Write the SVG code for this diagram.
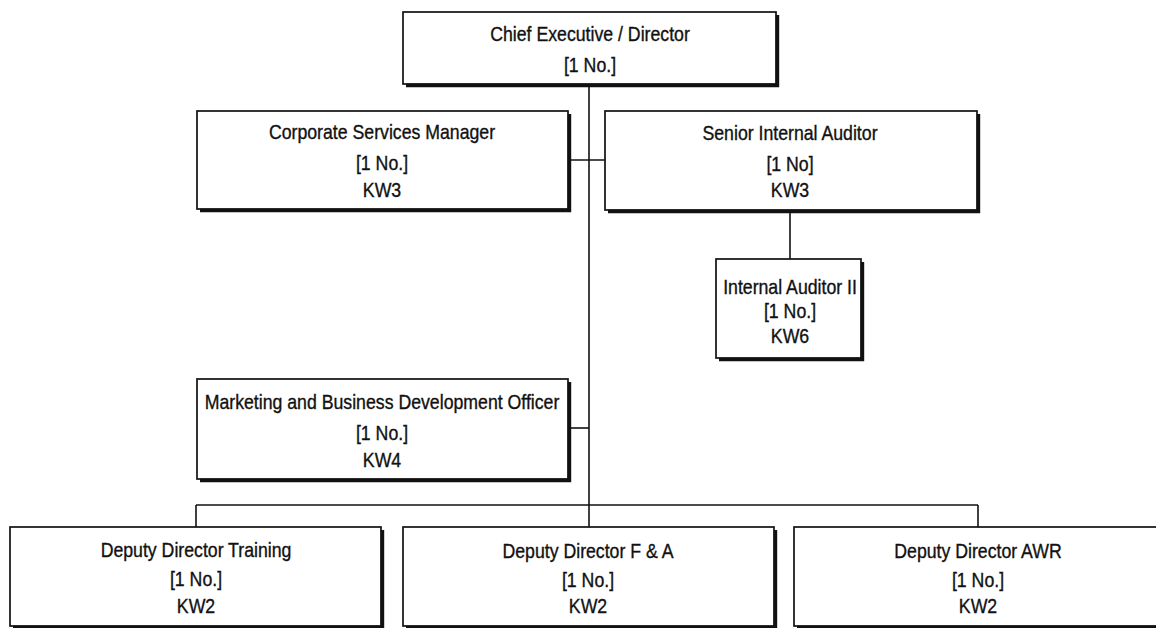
<svg xmlns="http://www.w3.org/2000/svg" width="1156" height="628" viewBox="0 0 1156 628">
  <style>
    .box { fill: #ffffff; stroke: #111111; stroke-width: 1.7; }
    .shadow { fill: none; stroke: #111111; stroke-width: 3.4; stroke-linejoin: miter; }
    .link { fill: none; stroke: #111111; stroke-width: 1.6; }
    .label { font-family: "Liberation Sans", Arial, sans-serif; font-size: 20px; fill: #111111; stroke: #111111; stroke-width: 0.35; text-anchor: middle; }
  </style>
  <rect x="0" y="0" width="1156" height="628" fill="#ffffff"/>

  <!-- reporting lines -->
  <g id="connectors">
    <line class="link" x1="589" y1="86" x2="589" y2="527"/>
    <line class="link" x1="570" y1="160" x2="605" y2="160"/>
    <line class="link" x1="790" y1="212" x2="790" y2="259"/>
    <line class="link" x1="570" y1="428" x2="589" y2="428"/>
    <line class="link" x1="196" y1="505" x2="978" y2="505"/>
    <line class="link" x1="196" y1="505" x2="196" y2="527"/>
    <line class="link" x1="978" y1="505" x2="978" y2="527"/>
  </g>

  <g id="chief-executive">
    <rect class="box" x="403" y="12" width="373" height="72"/>
    <path class="shadow" d="M777.5 15 V85.5 H406"/>
    <g transform="translate(590 0) scale(0.885 1)">
      <text class="label" x="0" y="41">Chief Executive / Director</text>
      <text class="label" x="0" y="72">[1 No.]</text>
    </g>
  </g>

  <g id="corporate-services-manager">
    <rect class="box" x="197" y="111" width="371" height="98"/>
    <path class="shadow" d="M569.5 114 V210.5 H200"/>
    <g transform="translate(382 0) scale(0.885 1)">
      <text class="label" x="0" y="139">Corporate Services Manager</text>
      <text class="label" x="0" y="170">[1 No.]</text>
      <text class="label" x="0" y="197">KW3</text>
    </g>
  </g>

  <g id="senior-internal-auditor">
    <rect class="box" x="605" y="111" width="372" height="99"/>
    <path class="shadow" d="M978.5 114 V211.5 H608"/>
    <g transform="translate(790 0) scale(0.885 1)">
      <text class="label" x="0" y="140">Senior Internal Auditor</text>
      <text class="label" x="0" y="171">[1 No]</text>
      <text class="label" x="0" y="197">KW3</text>
    </g>
  </g>

  <g id="internal-auditor-ii">
    <rect class="box" x="716" y="259" width="145" height="99"/>
    <path class="shadow" d="M862.5 262 V359.5 H719"/>
    <g transform="translate(790 0) scale(0.885 1)">
      <text class="label" x="0" y="294">Internal Auditor II</text>
      <text class="label" x="0" y="318">[1 No.]</text>
      <text class="label" x="0" y="343">KW6</text>
    </g>
  </g>

  <g id="marketing-officer">
    <rect class="box" x="197" y="379" width="371" height="100"/>
    <path class="shadow" d="M569.5 382 V480.5 H200"/>
    <g transform="translate(382 0) scale(0.885 1)">
      <text class="label" x="0" y="409">Marketing and Business Development Officer</text>
      <text class="label" x="0" y="440">[1 No.]</text>
      <text class="label" x="0" y="467">KW4</text>
    </g>
  </g>

  <g id="deputy-director-training">
    <rect class="box" x="10" y="527" width="371" height="99"/>
    <path class="shadow" d="M382.5 530 V627.5 H13"/>
    <g transform="translate(196 0) scale(0.885 1)">
      <text class="label" x="0" y="557">Deputy Director Training</text>
      <text class="label" x="0" y="586">[1 No.]</text>
      <text class="label" x="0" y="613">KW2</text>
    </g>
  </g>

  <g id="deputy-director-fa">
    <rect class="box" x="403" y="527" width="371" height="99"/>
    <path class="shadow" d="M775.5 530 V627.5 H406"/>
    <g transform="translate(588 0) scale(0.885 1)">
      <text class="label" x="0" y="558">Deputy Director F &amp; A</text>
      <text class="label" x="0" y="587">[1 No.]</text>
      <text class="label" x="0" y="613">KW2</text>
    </g>
  </g>

  <g id="deputy-director-awr">
    <rect class="box" x="794" y="527" width="371" height="99"/>
    <path class="shadow" d="M1166.5 530 V627.5 H797"/>
    <g transform="translate(978 0) scale(0.885 1)">
      <text class="label" x="0" y="558">Deputy Director AWR</text>
      <text class="label" x="0" y="587">[1 No.]</text>
      <text class="label" x="0" y="613">KW2</text>
    </g>
  </g>
</svg>
